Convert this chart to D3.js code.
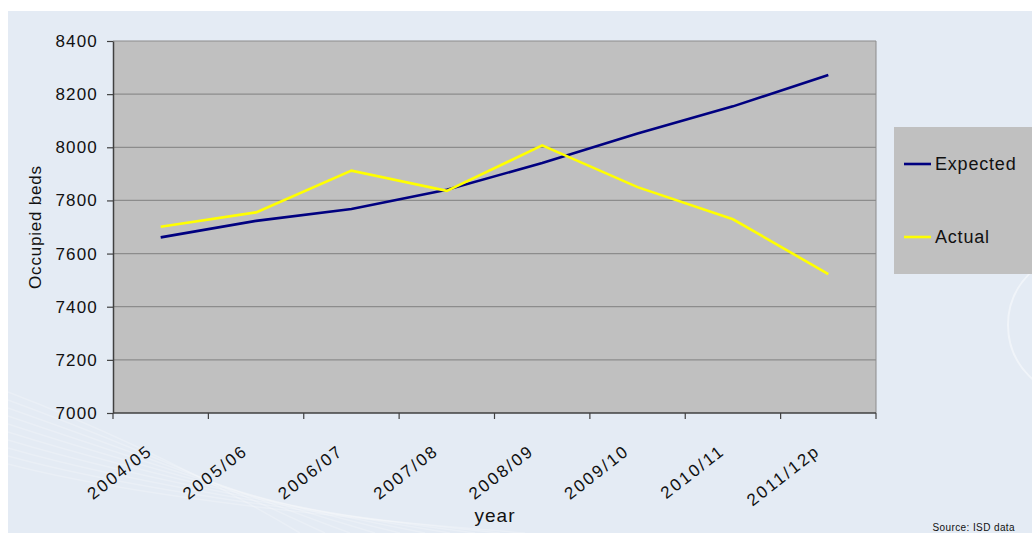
<!DOCTYPE html>
<html>
<head>
<meta charset="utf-8">
<script src="https://cdn.jsdelivr.net/npm/d3@7"></script>
<style>
  body { margin: 0; background: #ffffff; }
  svg { display: block; font-family: "Liberation Sans", Arial, sans-serif; }
</style>
</head>
<body>
<div id="graph"></div>
<script>
// chart data
var years = ["2004/05", "2005/06", "2006/07", "2007/08", "2008/09", "2009/10", "2010/11", "2011/12p"];
var expected = [7661, 7723, 7768, 7840, 7941, 8052, 8154, 8272];
var actual = [7701, 7755, 7912, 7836, 8007, 7850, 7729, 7523];
var yTicks = [7000, 7200, 7400, 7600, 7800, 8000, 8200, 8400];
var seriesNames = ["Expected", "Actual"];
var seriesColours = ["#000080", "#ffff00"];

var width = 1032, height = 534;
var margin = {top: 41, right: 156, bottom: 121, left: 113};
var plotW = width - margin.left - margin.right;
var plotH = height - margin.top - margin.bottom;

var svg = d3.select("#graph")
    .append("svg")
    .attr("width", width)
    .attr("height", height);

// slide background
svg.append("rect")
    .attr("x", 8).attr("y", 11)
    .attr("width", width - 8).attr("height", height - 12)
    .attr("fill", "#e4ebf4");

// faint swooshes in the corner
var deco = svg.append("g").attr("fill", "none").attr("stroke", "#ffffff");
for (var i = 0; i < 10; i++)
{
    deco.append("path")
        .attr("d", "M8," + (392 + i * 8) + " Q160," + (450 + i * 6) + " " + (300 + i * 25) + ",533")
        .attr("stroke-opacity", 0.22)
        .attr("stroke-width", 1.5);
}
deco.append("circle")
    .attr("cx", 1080).attr("cy", 325).attr("r", 72)
    .attr("stroke-opacity", 0.45).attr("stroke-width", 2);

var g = svg.append("g")
    .attr("transform", "translate(" + margin.left + "," + margin.top + ")");

var x = d3.scaleBand()
    .domain(years)
    .range([0, plotW]);

var y = d3.scaleLinear()
    .domain([7000, 8400])
    .range([plotH, 0]);

g.append("rect")
    .attr("width", plotW)
    .attr("height", plotH)
    .attr("fill", "#c0c0c0");

// grid lines
g.selectAll(".grid")
    .data(yTicks.slice(1))
    .enter().append("line")
    .attr("class", "grid")
    .attr("x1", 0).attr("x2", plotW)
    .attr("y1", function(d) { return y(d); })
    .attr("y2", function(d) { return y(d); })
    .attr("stroke", "#8c8c8c")
    .attr("stroke-width", 1.2);

g.append("line")
    .attr("x1", plotW).attr("x2", plotW)
    .attr("y1", 0).attr("y2", plotH)
    .attr("stroke", "#8c8c8c");

// y axis
var yAxis = g.append("g")
    .call(d3.axisLeft(y).tickValues(yTicks).tickFormat(d3.format("d"))
        .tickSize(6).tickPadding(9).tickSizeOuter(0));
yAxis.select(".domain").attr("stroke", "#404040").attr("stroke-width", 1.5);
yAxis.selectAll(".tick line").attr("stroke", "#404040").attr("stroke-width", 1.2);
yAxis.selectAll("text")
    .attr("font-size", "17px")
    .attr("letter-spacing", "1.2px")
    .attr("fill", "#111")
    .attr("font-family", "Liberation Sans, Arial, sans-serif");

// x axis: ticks sit on band edges
var xAxis = g.append("g")
    .attr("transform", "translate(0," + plotH + ")");
xAxis.append("line")
    .attr("x1", 0).attr("x2", plotW)
    .attr("stroke", "#404040").attr("stroke-width", 1.5);
var edges = years.map(function(d) { return x(d); }).concat([plotW]);
xAxis.selectAll(".xtick")
    .data(edges)
    .enter().append("line")
    .attr("class", "xtick")
    .attr("x1", function(d) { return d; })
    .attr("x2", function(d) { return d; })
    .attr("y1", 0).attr("y2", 6)
    .attr("stroke", "#404040").attr("stroke-width", 1.2);

xAxis.selectAll(".xlab")
    .data(years)
    .enter().append("text")
    .attr("class", "xlab")
    .attr("transform", function(d)
    {
        return "translate(" + (x(d) + x.bandwidth() / 2 - 7) + ",40) rotate(-38)";
    })
    .attr("text-anchor", "end")
    .attr("font-size", "17px")
    .attr("letter-spacing", "2.2px")
    .attr("fill", "#111")
    .text(function(d) { return d; });

// lines
var line = d3.line()
    .x(function(d, i) { return x(years[i]) + x.bandwidth() / 2; })
    .y(function(d) { return y(d); });

[expected, actual].forEach(function(s, k)
{
    g.append("path")
        .datum(s)
        .attr("d", line)
        .attr("fill", "none")
        .attr("stroke", seriesColours[k])
        .attr("stroke-width", 2.6);
});

// axis titles
svg.append("text")
    .attr("transform", "translate(41," + (margin.top + plotH / 2) + ") rotate(-90)")
    .attr("text-anchor", "middle")
    .attr("font-size", "17px")
    .attr("letter-spacing", "0.8px")
    .attr("fill", "#111")
    .text("Occupied beds");

svg.append("text")
    .attr("x", 495).attr("y", 522)
    .attr("text-anchor", "middle")
    .attr("font-size", "19px")
    .attr("letter-spacing", "1px")
    .attr("fill", "#111")
    .text("year");

svg.append("text")
    .attr("x", 1015).attr("y", 531)
    .attr("text-anchor", "end")
    .attr("font-size", "10px")
    .attr("letter-spacing", "0.4px")
    .attr("fill", "#111")
    .text("Source: ISD data");

// legend
var legend = svg.append("g").attr("transform", "translate(894,127)");
legend.append("rect")
    .attr("width", 138).attr("height", 147)
    .attr("fill", "#c0c0c0");
var items = legend.selectAll(".item")
    .data(seriesNames)
    .enter().append("g")
    .attr("class", "item")
    .attr("transform", function(d, i) { return "translate(0," + (37 + i * 73) + ")"; });
items.append("line")
    .attr("x1", 10).attr("x2", 37)
    .attr("stroke", function(d, i) { return seriesColours[i]; })
    .attr("stroke-width", 2.6);
items.append("text")
    .attr("x", 41).attr("y", 6)
    .attr("font-size", "18px")
    .attr("letter-spacing", "0.8px")
    .attr("fill", "#111")
    .text(function(d) { return d; });
</script>
</body>
</html>
